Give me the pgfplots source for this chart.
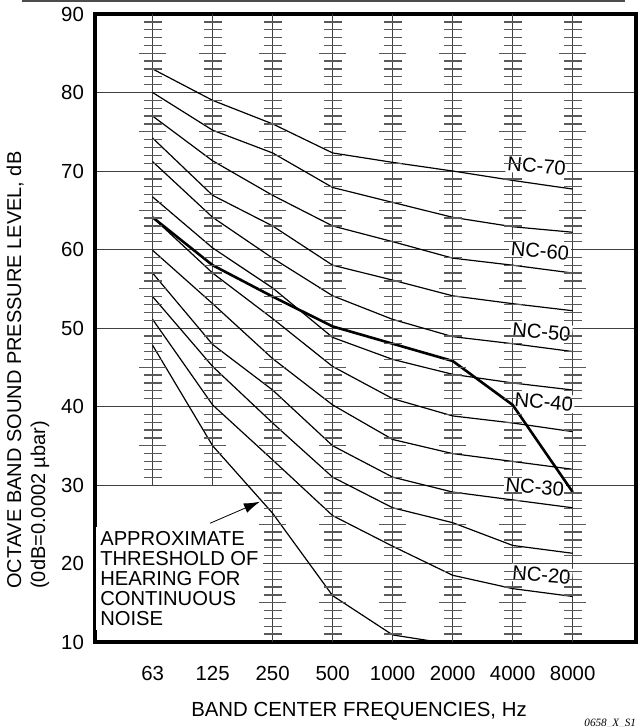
\documentclass[border=0pt]{standalone}
\usepackage{fontspec}
\setmainfont{Liberation Sans}
\newfontfamily\serifit{Liberation Serif}
\usepackage{pgfplots}
\pgfplotsset{compat=1.18}
\usetikzlibrary{arrows.meta}
\tikzset{
  nclab/.style={fill=white, inner sep=0.8pt, rotate=-5, font=\fontsize{10.1}{12}\selectfont},
}
\pgfplotsset{
  ladder/.style={only marks, mark=-, mark size=4.5pt, mark options={line width=0.65pt, draw=black!65}},
  lladder/.style={only marks, mark=-, mark size=6.75pt, mark options={line width=0.65pt, draw=black!65}},
  nc/.style={black, line width=0.6pt},
}
\begin{document}
\begin{tikzpicture}
\path[use as bounding box] (-47.5pt,-42.5pt) rectangle (271.5pt,321pt);
\begin{axis}[
  scale only axis, width=270.5pt, height=314pt,
  xmin=-0.96, xmax=8.055, ymin=10, ymax=90,
  xtick={0,...,7}, xticklabels={63,125,250,500,1000,2000,4000,8000},
  ytick={10,20,...,90},
  ymajorgrids, grid style={black!75, line width=0.5pt},
  major tick length=0pt,
  axis line style={line width=1.6pt},
  /pgf/number format/assume math mode=true,
  tick label style={font=\fontsize{10.2}{12}\selectfont},
  xticklabel style={yshift=-8.6pt},
  yticklabel style={xshift=-2pt},
  xlabel={BAND CENTER FREQUENCIES, Hz},
  xlabel style={at={(axis description cs:0.488,-0.11)}, anchor=center, font=\fontsize{10.2}{12}\selectfont},
  ylabel={OCTAVE BAND SOUND PRESSURE LEVEL, dB\\(0dB=0.0002 µbar)},
  ylabel style={at={(axis description cs:-0.124,0.433)}, anchor=center, align=left, font=\fontsize{10}{12}\selectfont},
]
% vertical frequency lines
\addplot[black!75, line width=0.5pt] coordinates {(0,30) (0,90)};
\addplot[black!75, line width=0.5pt] coordinates {(1,30) (1,90)};
\addplot[black!75, line width=0.5pt] coordinates {(2,10) (2,90)};
\addplot[black!75, line width=0.5pt] coordinates {(3,10) (3,90)};
\addplot[black!75, line width=0.5pt] coordinates {(4,10) (4,90)};
\addplot[black!75, line width=0.5pt] coordinates {(5,10) (5,90)};
\addplot[black!75, line width=0.5pt] coordinates {(6,10) (6,90)};
\addplot[black!75, line width=0.5pt] coordinates {(7,10) (7,90)};
% graduation ladders
\pgfplotsinvokeforeach{0,1}{
  \addplot[ladder, samples at={31,32,33,34,36,37,38,39,41,42,43,44,46,47,48,49,51,52,53,54,56,57,58,59,61,62,63,64,66,67,68,69,71,72,73,74,76,77,78,79,81,82,83,84,86,87,88,89}] ({#1},{x});
  \addplot[lladder, samples at={35,45,55,65,75,85}] ({#1},{x});
}
\pgfplotsinvokeforeach{2,...,7}{
  \addplot[ladder, samples at={11,12,13,14,16,17,18,19,21,22,23,24,26,27,28,29,31,32,33,34,36,37,38,39,41,42,43,44,46,47,48,49,51,52,53,54,56,57,58,59,61,62,63,64,66,67,68,69,71,72,73,74,76,77,78,79,81,82,83,84,86,87,88,89}] ({#1},{x});
  \addplot[lladder, samples at={15,25,35,45,55,65,75,85}] ({#1},{x});
}
% NC curves
\addplot[nc] coordinates {(0,83) (1,79) (2,76) (3,72.3) (4,71.1) (5,70) (6,68.8) (7,67.7)};
\addplot[nc] coordinates {(0,80) (1,75.2) (2,72.3) (3,67.9) (4,66) (5,64.1) (6,62.9) (7,62.2)};
\addplot[nc] coordinates {(0,77) (1,71.3) (2,66.9) (3,63) (4,61) (5,58.9) (6,58) (7,57)};
\addplot[nc] coordinates {(0,74.2) (1,66.9) (2,63) (3,58) (4,56.1) (5,54.1) (6,53.1) (7,52.2)};
\addplot[nc] coordinates {(0,71.2) (1,64.1) (2,58.9) (3,54.1) (4,51.1) (5,48.9) (6,48) (7,47)};
\addplot[nc] coordinates {(0,66.7) (1,60.2) (2,55.1) (3,48.8) (4,46) (5,44.1) (6,43) (7,42.1)};
\addplot[nc] coordinates {(0,64.1) (1,57) (2,51.2) (3,45.1) (4,41) (5,38.8) (6,37.9) (7,36.8)};
\addplot[nc] coordinates {(0,59.9) (1,53.1) (2,46.1) (3,40.2) (4,35.8) (5,34) (6,33) (7,32)};
\addplot[nc] coordinates {(0,57) (1,47.9) (2,42.1) (3,35) (4,31) (5,29.1) (6,28.1) (7,27.1)};
\addplot[nc] coordinates {(0,54) (1,45.1) (2,37.9) (3,31) (4,27.1) (5,25.2) (6,22.3) (7,21.3)};
\addplot[nc] coordinates {(0,51.1) (1,40.2) (2,33.2) (3,26.1) (4,22.2) (5,18.5) (6,16.8) (7,15.8)};
% threshold of hearing
\addplot[nc] coordinates {(0,47.8) (1,35) (2,26.4) (3,15.9) (4,10.9) (5,9.7)};
% labels
\node[nclab] at (axis cs:6.40,70.68) {NC-70};
\node[nclab] at (axis cs:6.455,59.85) {NC-60};
\node[nclab] at (axis cs:6.48,49.53) {NC-50};
\node[nclab] at (axis cs:6.52,40.61) {NC-40};
\node[nclab] at (axis cs:6.37,29.78) {NC-30};
\node[nclab] at (axis cs:6.48,18.54) {NC-20};
% measured spectrum (thick)
\addplot[black, line width=1.3pt] coordinates {(0,64.1) (1,58) (2,54) (3,50.2) (4,48) (5,45.8) (6,40.2) (7,29.1)};
% annotation
\node[fill=white, inner sep=2pt, anchor=north west, align=left, font=\fontsize{10.1}{10}\selectfont] at (axis cs:-0.945,24.65) {APPROXIMATE\\THRESHOLD OF\\HEARING FOR\\CONTINUOUS\\NOISE};
\draw[-{Latex[length=8pt,width=5pt]}, line width=0.4pt] (axis cs:0.955,25.12) -- (axis cs:1.788,27.87);
\end{axis}
\draw[black!70, line width=0.6pt] (-36.5pt,320.5pt) -- (265pt,320.5pt);
\node[anchor=base west, inner sep=0pt, font=\fontsize{5.6}{6}\serifit\itshape] at (244.5pt,-42.2pt) {0658\_X\_S1};
\end{tikzpicture}
\end{document}
